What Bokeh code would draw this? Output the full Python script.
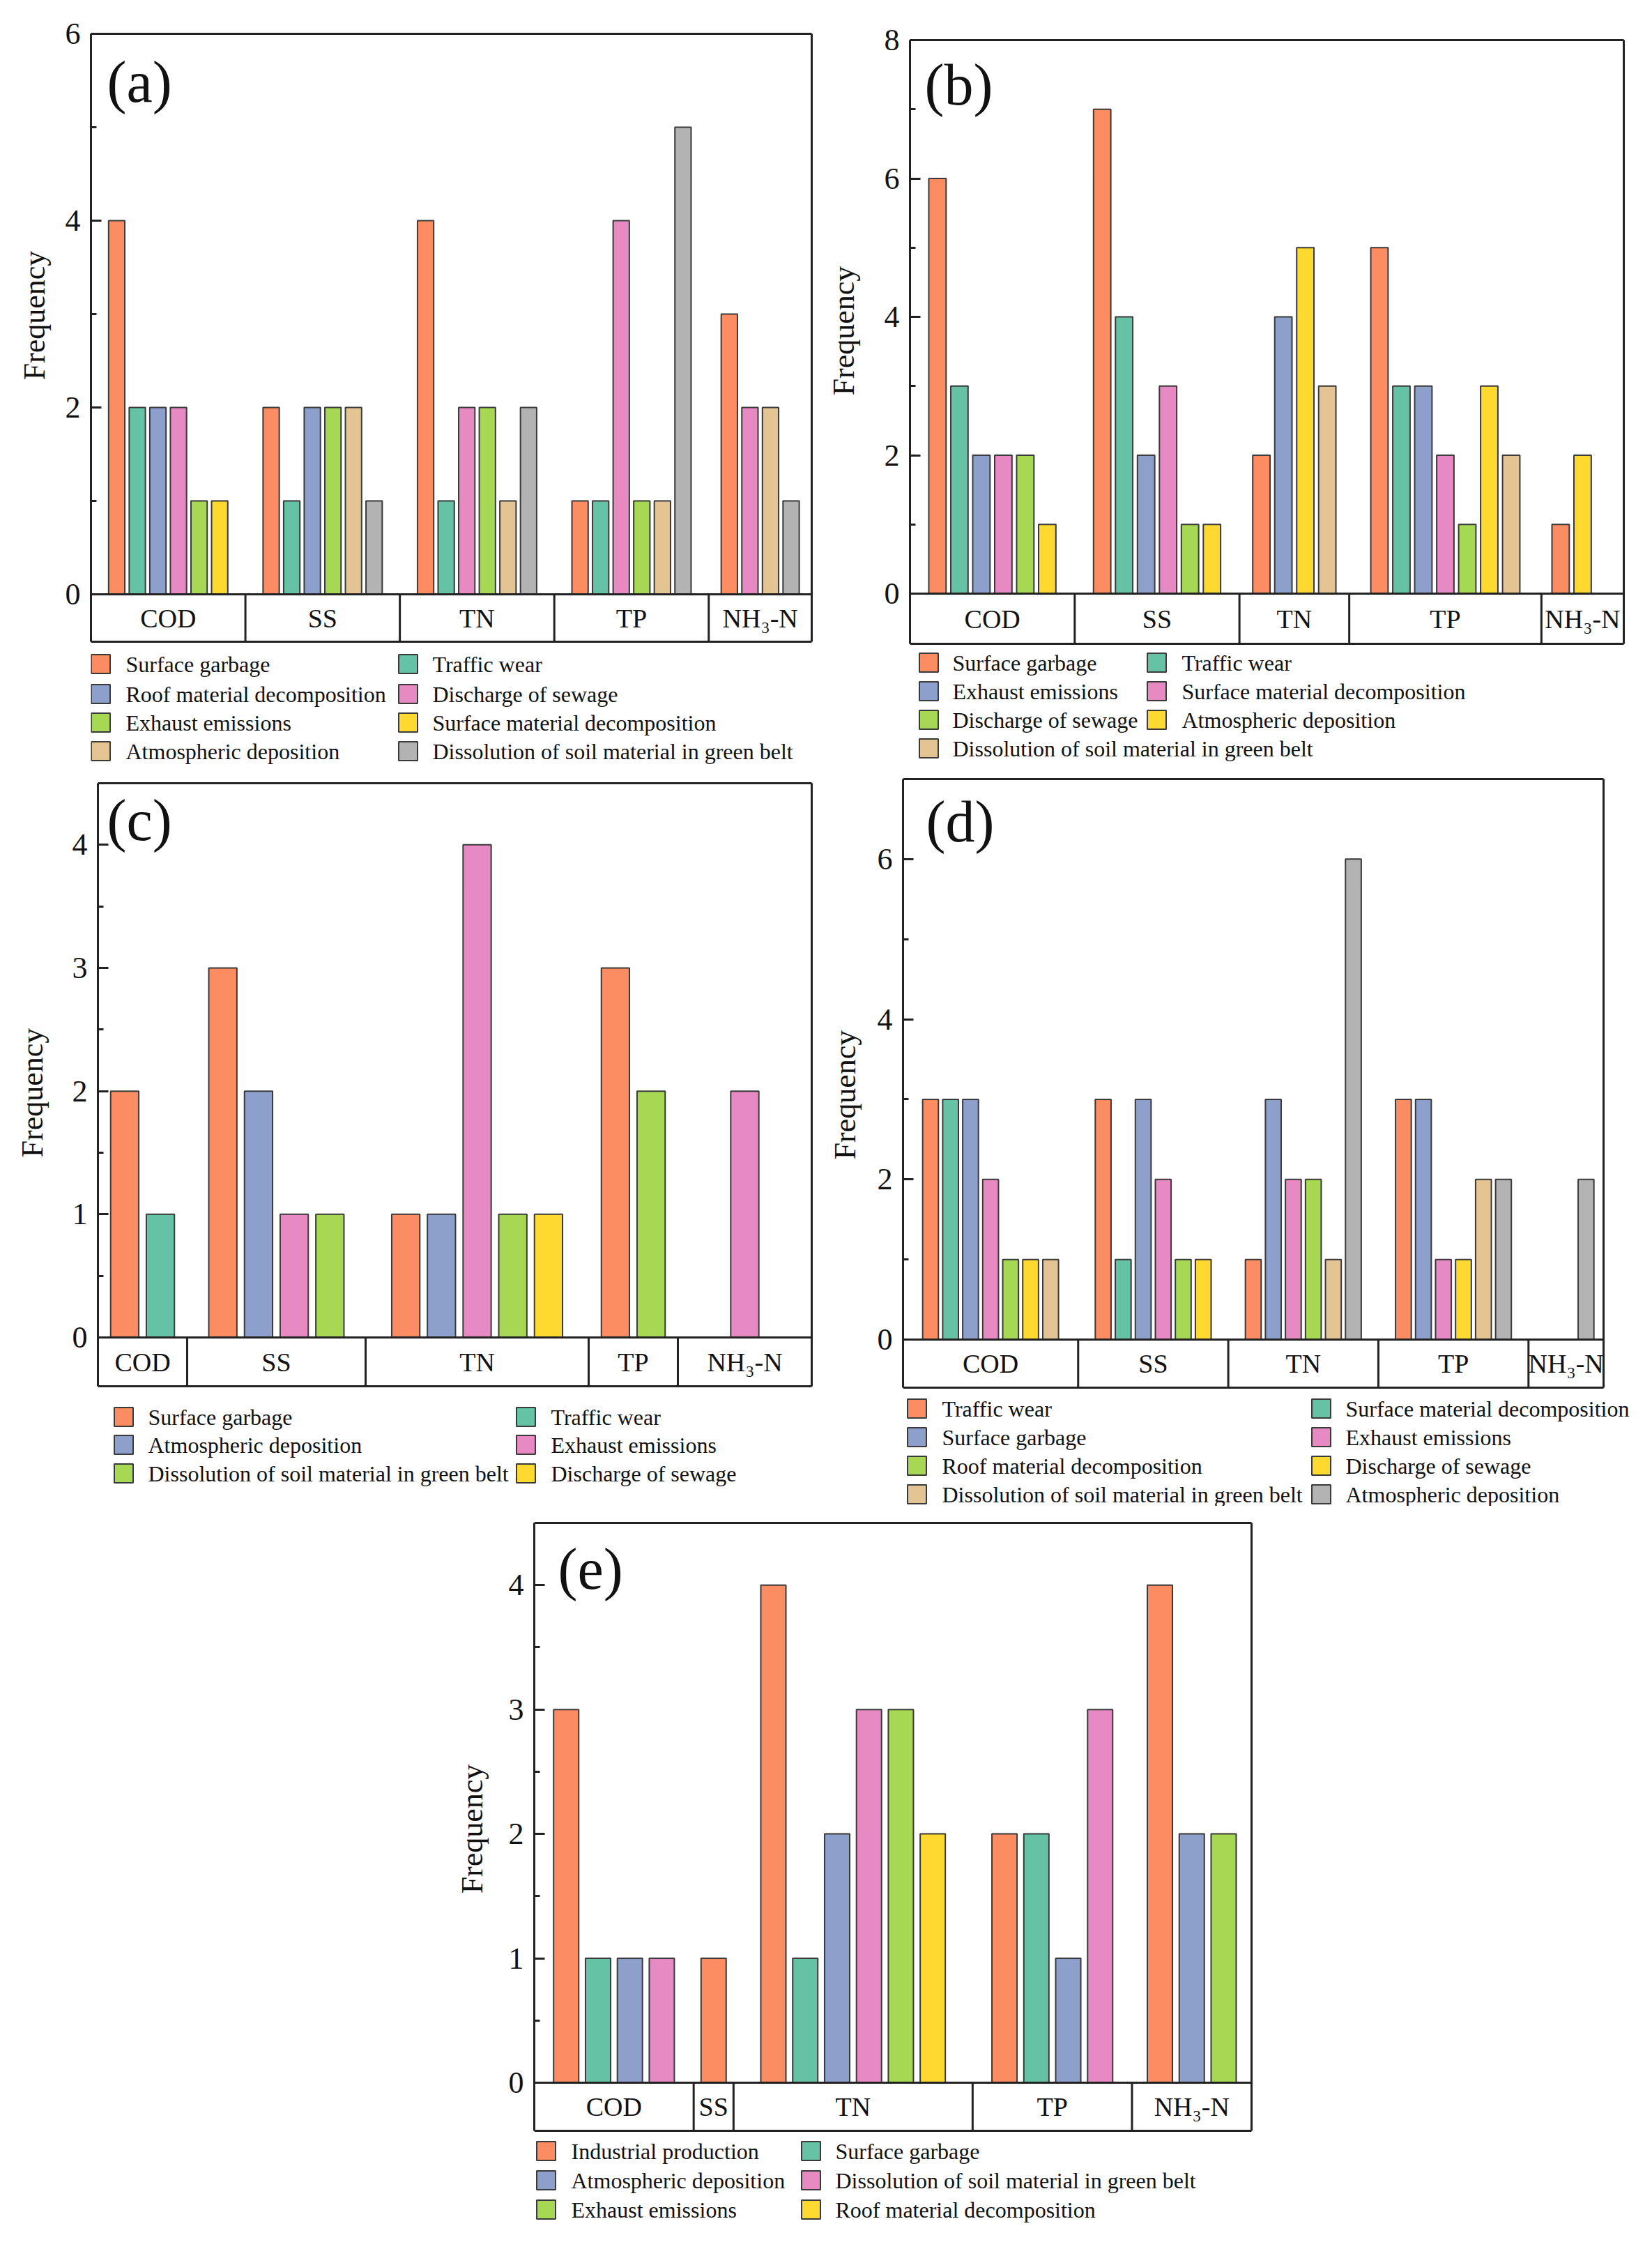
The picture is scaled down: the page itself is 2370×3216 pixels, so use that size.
import math
from bokeh.plotting import figure
from bokeh.models import Range1d, FixedTicker, Spacer, ColumnDataSource
from bokeh.layouts import row, column
from bokeh.embed import file_html
from bokeh.resources import INLINE
from bokeh.core.properties import value

FONT = "Liberation Serif"
INK = "#222222"
BAR_EDGE = "#3a3a3a"
TXT = "#111111"

categories = ["COD", "SS", "TN", "TP", "NH\u2083-N"]
palette = ["#FC8D62", "#66C2A5", "#8DA0CB", "#E78AC3", "#A6D854", "#FFD92F", "#E5C494", "#B3B3B3"]

N = None  # source not listed for that pollutant (no slot); 0 = empty slot

# ---------------- (a) ----------------
a_series = ["Surface garbage", "Traffic wear", "Roof material decomposition", "Discharge of sewage",
            "Exhaust emissions", "Surface material decomposition", "Atmospheric  deposition",
            "Dissolution of soil material in green belt"]
a_values = [
    [4, 2, 4, 1, 3],
    [2, 1, 1, 1, N],
    [2, 2, N, N, N],
    [2, N, 2, 4, 2],
    [1, 2, 2, 1, N],
    [1, N, N, N, N],
    [N, 2, 1, 1, 2],
    [N, 1, 2, 5, 1],
]
a_ticks = [0, 2, 4, 6]
a_minor = [1, 3, 5]

# ---------------- (b) ----------------
b_series = ["Surface garbage", "Traffic wear", "Exhaust emissions", "Surface material decomposition",
            "Discharge of sewage", "Atmospheric  deposition", "Dissolution of soil material in green belt"]
b_values = [
    [6, 7, 2, 5, 1],
    [3, 4, N, 3, N],
    [2, 2, 4, 3, N],
    [2, 3, N, 2, N],
    [2, 1, N, 1, N],
    [1, 1, 5, 3, 2],
    [N, N, 3, 2, 0],
]
b_ticks = [0, 2, 4, 6, 8]
b_minor = [1, 3, 5, 7]

# ---------------- (c) ----------------
c_series = ["Surface garbage", "Traffic wear", "Atmospheric  deposition", "Exhaust emissions",
            "Dissolution of soil material in green belt", "Discharge of sewage"]
c_values = [
    [2, 3, 1, 3, 0],
    [1, N, N, N, N],
    [N, 2, 1, N, N],
    [N, 1, 4, N, 2],
    [N, 1, 1, 2, 0],
    [N, N, 1, N, N],
]
c_ticks = [0, 1, 2, 3, 4]
c_minor = [0.5, 1.5, 2.5, 3.5]

# ---------------- (d) ----------------
d_series = ["Traffic wear", "Surface material decomposition", "Surface garbage", "Exhaust emissions",
            "Roof material decomposition", "Discharge of sewage",
            "Dissolution of soil material in green belt", "Atmospheric  deposition"]
d_values = [
    [3, 3, 1, 3, 0],
    [3, 1, N, N, N],
    [3, 3, 3, 3, 0],
    [2, 2, 2, 1, N],
    [1, 1, 2, N, N],
    [1, 1, N, 1, N],
    [1, N, 1, 2, N],
    [N, N, 6, 2, 2],
]
d_ticks = [0, 2, 4, 6]
d_minor = [1, 3, 5]

# ---------------- (e) ----------------
e_series = ["Industrial production", "Surface garbage", "Atmospheric  deposition",
            "Dissolution of soil material in green belt", "Exhaust emissions", "Roof material decomposition"]
e_values = [
    [3, 1, 4, 2, 4],
    [1, N, 1, 2, N],
    [1, N, 2, 1, 2],
    [1, N, 3, 3, N],
    [N, N, 3, N, 2],
    [N, N, 2, N, N],
]
e_ticks = [0, 1, 2, 3, 4]
e_minor = [0.5, 1.5, 2.5, 3.5]

PITCH = 0.8
BAR_W = 0.63
TICK_BORDER = 50
SPLIT = 1172   # boundary between left and right column


def make_label_fig(box, xy):
    x0, y0, x1, y1 = box
    p = figure(width=x1 - x0, height=y1 - y0,
               x_range=Range1d(x0, x1), y_range=Range1d(-y1, -y0),
               x_axis_location=None, y_axis_location=None,
               toolbar_location=None, output_backend="svg", title=None, min_border=0)
    p.outline_line_color = None
    p.grid.visible = False
    p.text(x=[xy[0]], y=[-xy[1]], text=["Frequency"], angle=math.pi / 2,
           text_font=value(FONT), text_font_size="44px", text_color=TXT,
           text_align="center", text_baseline="middle")
    return p


def make_panel(tag, series, values, ymax, majors, minors, col_box, frame,
               freq_xy, tag_xy, leg_mark_x, leg_text_x, leg_rows_y):
    cx0, y0, x1, y1 = col_box
    left, top, right, zero, bottom = frame
    x0 = left - TICK_BORDER
    lab = make_label_fig((cx0, y0, x0, y1), freq_xy)

    ncat = len(categories)
    counts = [sum(1 for s in values if s[k] is not None) for k in range(ncat)]
    total = sum(counts)
    S = (right - left) / total          # px per slot
    U = (zero - top) / ymax             # px per frequency unit
    x_end = (x1 - left) / S
    y_end = (zero - y0) / U
    y_start = -(y1 - zero) / U
    y_band = -(bottom - zero) / U

    def dx(px):
        return (px - left) / S

    def dy(py):
        return (zero - py) / U

    p = figure(width=x1 - x0, height=y1 - y0,
               x_range=Range1d(0, x_end), y_range=Range1d(y_start, y_end),
               x_axis_location=None, y_axis_location="left",
               toolbar_location=None, output_backend="svg", title=None,
               min_border_left=TICK_BORDER, min_border_right=0,
               min_border_top=0, min_border_bottom=0)
    p.grid.visible = False
    p.outline_line_color = None
    p.background_fill_color = "white"
    p.border_fill_color = "white"

    ax = p.yaxis[0]
    ax.bounds = (y_band, ymax)
    ax.ticker = FixedTicker(ticks=majors, minor_ticks=minors)
    ax.major_tick_in = 15
    ax.major_tick_out = 0
    ax.minor_tick_in = 8
    ax.minor_tick_out = 0
    ax.major_tick_line_width = 3
    ax.minor_tick_line_width = 3
    ax.major_tick_line_color = INK
    ax.minor_tick_line_color = INK
    ax.axis_line_width = 3
    ax.axis_line_color = INK
    ax.major_label_text_font = FONT
    ax.major_label_text_font_size = "44px"
    ax.major_label_text_color = TXT
    ax.major_label_standoff = 15

    xs, tops, cols = [], [], []
    starts, centers = [], []
    s0 = 0
    for k in range(ncat):
        members = [i for i, s in enumerate(values) if s[k] is not None]
        n = len(members)
        c = s0 + n / 2
        for j, i in enumerate(members):
            v = values[i][k]
            if v > 0:
                xs.append(c + (j - (n - 1) / 2) * PITCH)
                tops.append(v)
                cols.append(palette[i])
        starts.append(s0)
        centers.append(c)
        s0 += n

    src = ColumnDataSource(dict(x=xs, top=tops, color=cols))
    p.vbar(x="x", top="top", bottom=0, width=BAR_W, source=src,
           fill_color="color", line_color=BAR_EDGE, line_width=2)

    # box around plot + category band, separators
    seps = starts[1:]
    p.segment(x0=seps, y0=[y_band] * len(seps), x1=seps, y1=[0] * len(seps),
              line_color=INK, line_width=3)
    p.segment(x0=[0, 0, 0, total], y0=[0, ymax, y_band, y_band],
              x1=[total, total, total, total], y1=[0, ymax, y_band, ymax],
              line_color=INK, line_width=3)
    p.text(x=centers, y=[y_band / 2] * ncat, text=categories,
           text_font=value(FONT), text_font_size="38px", text_color=TXT,
           text_align="center", text_baseline="middle")

    # panel tag
    tx, ty = tag_xy
    p.text(x=[dx(tx - 4)], y=[dy(ty - 7)], text=[tag],
           text_font=value(FONT), text_font_size="84px", text_color=TXT,
           text_align="left", text_baseline="middle")

    # legend (two columns, row-major)
    mx, my, lx = [], [], []
    for i, name in enumerate(series):
        r, c = divmod(i, 2)
        mx.append(dx(leg_mark_x[c]))
        lx.append(dx(leg_text_x[c]))
        my.append(dy(leg_rows_y[r]))
    p.scatter(x=mx, y=my, marker="square", size=27, fill_color=palette[:len(series)],
              line_color=BAR_EDGE, line_width=2)
    p.text(x=lx, y=my, text=series, text_font=value(FONT), text_font_size="32px",
           text_color=TXT, text_align="left", text_baseline="middle")
    return lab, p


la, pa = make_panel("(a)", a_series, a_values, 6, a_ticks, a_minor, (0, 0, SPLIT, 1100),
                    (130, 48, 1164, 852, 920), (49, 452), (157, 124),
                    [144, 585], [180, 620], [952, 995, 1036, 1077])

lb, pb = make_panel("(b)", b_series, b_values, 8, b_ticks, b_minor, (SPLIT, 0, 2366, 1100),
                    (1305, 57, 2329, 851, 923), (1210, 474), (1330, 128),
                    [1332, 1659], [1366, 1695], [950, 991, 1032, 1073])

lc, pc = make_panel("(c)", c_series, c_values, 4.5, c_ticks, c_minor, (0, 1100, SPLIT, 2160),
                    (140, 1123, 1164, 1918, 1988), (46, 1567), (157, 1183),
                    [177, 754], [212, 790], [2032, 2072, 2113])

ld, pd_ = make_panel("(d)", d_series, d_values, 7, d_ticks, d_minor, (SPLIT, 1100, 2366, 2160),
                     (1295, 1117, 2300, 1921, 1990), (1212, 1570), (1332, 1185),
                     [1315, 1895], [1351, 1930], [2020, 2061, 2102, 2143])

le, pe = make_panel("(e)", e_series, e_values, 4.5, e_ticks, e_minor, (600, 2160, 1900, 3212),
                    (766, 2184, 1795, 2987, 3056), (677, 2623), (804, 2257),
                    [783, 1163], [819, 1198], [3085, 3127, 3169])

layout = column(
    row(la, pa, lb, pb),
    row(lc, pc, ld, pd_),
    row(Spacer(width=600, height=10), le, pe),
)

open("out.html", "w").write(file_html(layout, INLINE))
